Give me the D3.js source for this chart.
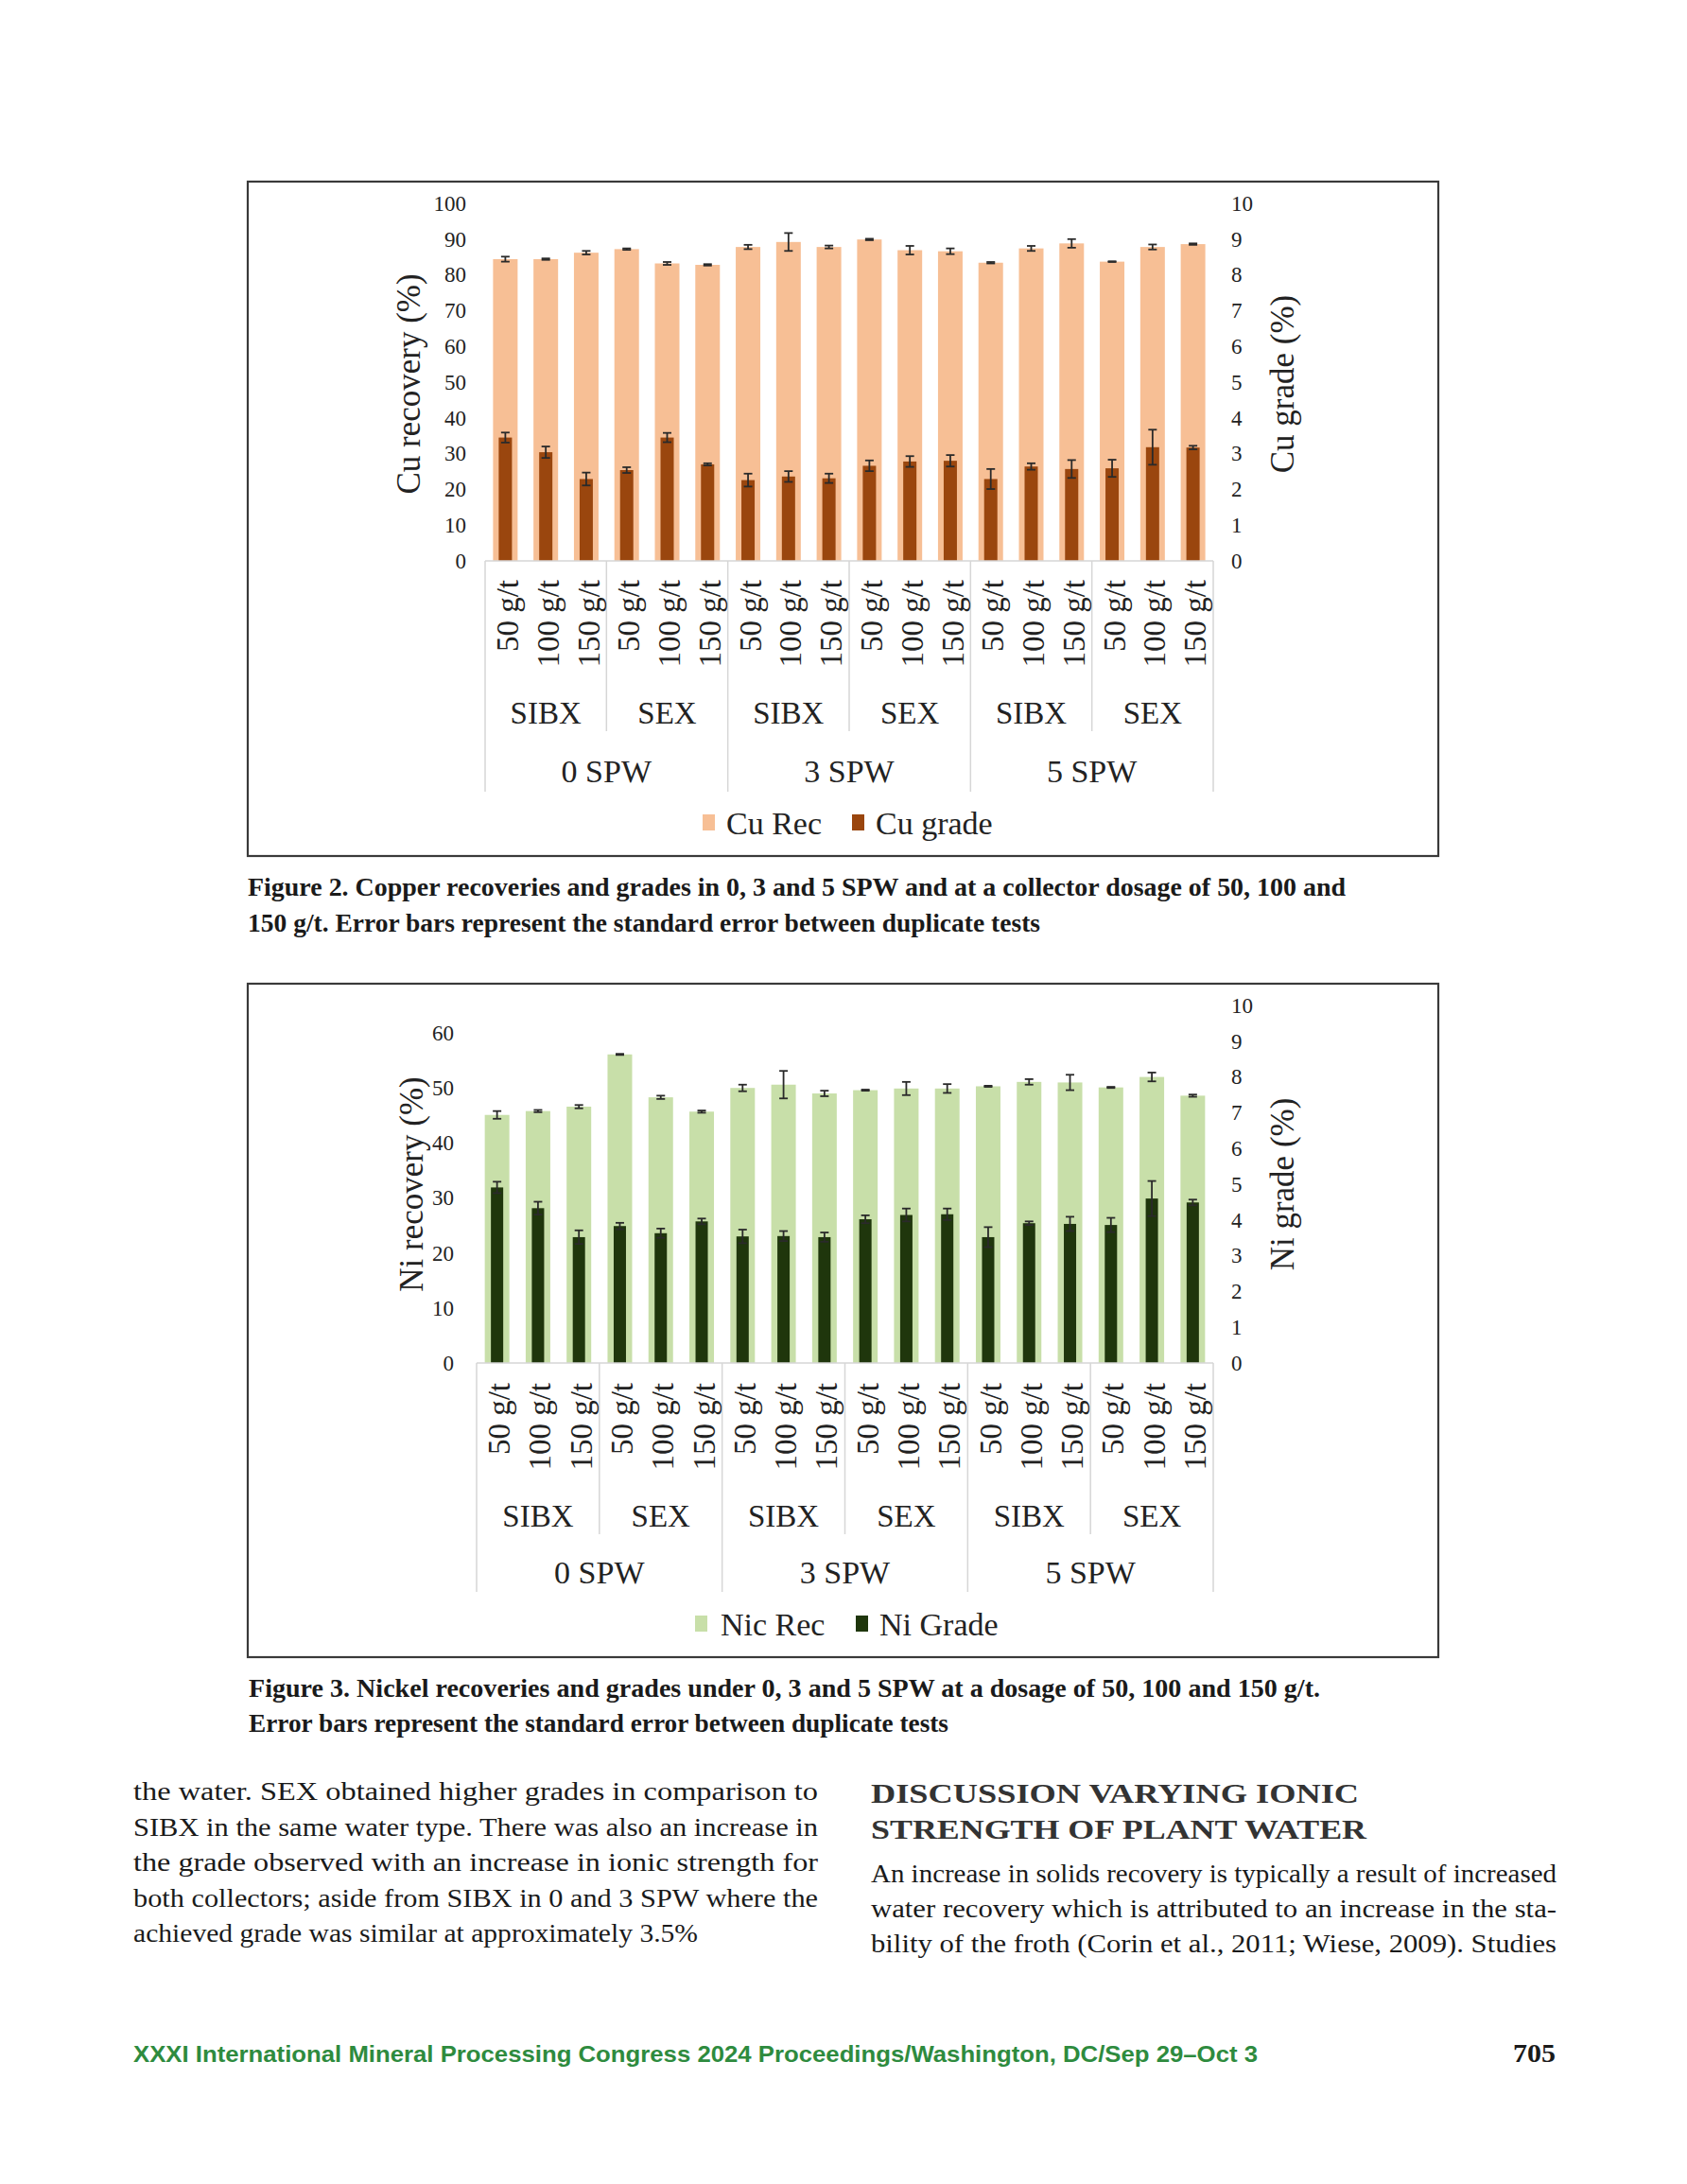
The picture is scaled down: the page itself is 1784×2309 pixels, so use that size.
<!DOCTYPE html>
<html>
<head>
<meta charset="utf-8">
<script src="https://cdn.jsdelivr.net/npm/d3@7"></script>
<style>
body { margin: 0; background: #fff; }
</style>
</head>
<body>
<div id="page"></div>
<script>
// category labels
var doseLabels = ["50 g/t","100 g/t","150 g/t","50 g/t","100 g/t","150 g/t",
				"50 g/t","100 g/t","150 g/t","50 g/t","100 g/t","150 g/t",
				"50 g/t","100 g/t","150 g/t","50 g/t","100 g/t","150 g/t"];
var collectorLabels = ["SIBX","SEX","SIBX","SEX","SIBX","SEX"];
var spwLabels = ["0 SPW","3 SPW","5 SPW"];

// copper (figure 2)
var cuRec = [84.4,84.4,86.2,87.2,83.2,82.8,87.8,89.2,87.8,89.9,86.9,86.6,83.4,87.4,88.8,83.7,87.8,88.6];
var cuRecErr = [0.7,0.2,0.5,0.2,0.4,0.2,0.6,2.5,0.4,0.2,1.2,0.8,0.2,0.7,1.2,0.1,0.7,0.2];
var cuGrade = [3.45,3.04,2.29,2.54,3.45,2.70,2.26,2.36,2.31,2.66,2.78,2.80,2.29,2.64,2.57,2.59,3.18,3.17];
var cuGradeErr = [0.14,0.16,0.18,0.08,0.13,0.03,0.18,0.15,0.13,0.15,0.15,0.16,0.28,0.09,0.25,0.24,0.49,0.05];

// nickel (figure 3)
var niRec = [45.1,45.8,46.6,56.1,48.3,45.7,50.0,50.6,49.0,49.6,49.9,49.9,50.3,51.1,51.0,50.1,52.0,48.6];
var niRecErr = [0.7,0.2,0.3,0.1,0.3,0.2,0.6,2.5,0.5,0.1,1.2,0.8,0.1,0.5,1.4,0.1,0.8,0.2];
var niGrade = [4.91,4.33,3.52,3.83,3.63,3.96,3.54,3.55,3.52,4.02,4.14,4.16,3.52,3.91,3.89,3.86,4.60,4.49];
var niGradeErr = [0.16,0.18,0.19,0.09,0.13,0.08,0.19,0.14,0.13,0.11,0.18,0.16,0.28,0.05,0.20,0.20,0.49,0.08];

var cuTicksLeft = [0,10,20,30,40,50,60,70,80,90,100];
var niTicksLeft = [0,10,20,30,40,50,60];
var gradeTicks = [0,1,2,3,4,5,6,7,8,9,10];

var serif = '"Liberation Serif", "Times New Roman", serif';
var ink = '#222';

var svg = d3.select('#page').append('svg')
	.attr('width', 1784)
	.attr('height', 2309);

svg.append('rect')
	.attr('width', 1784)
	.attr('height', 2309)
	.attr('fill', '#fff');

function drawChart(c) {
	var g = svg.append('g');

	g.append('rect')
		.attr('x', c.box[0]).attr('y', c.box[1])
		.attr('width', c.box[2] - c.box[0])
		.attr('height', c.box[3] - c.box[1])
		.attr('fill', 'none')
		.attr('stroke', '#3a3a3a')
		.attr('stroke-width', 2.2);

	var x = d3.scaleBand()
		.domain(d3.range(doseLabels.length))
		.range([c.x0, c.x1]);
	var yL = d3.scaleLinear().domain([0, c.leftMax]).range([c.y0, c.yTop]);
	var yR = d3.scaleLinear().domain([0, 10]).range([c.y0, c.yTop]);
	var mid = function (i) { return x(i) + x.bandwidth() / 2; };

	// recovery bars
	g.selectAll('empty')
		.data(c.rec)
		.enter()
		.append('rect')
		.attr('x', function (d, i) { return mid(i) - c.recW / 2; })
		.attr('y', function (d) { return yL(d); })
		.attr('width', c.recW)
		.attr('height', function (d) { return c.y0 - yL(d); })
		.attr('fill', c.recColor);

	// grade bars
	g.selectAll('empty')
		.data(c.grade)
		.enter()
		.append('rect')
		.attr('x', function (d, i) { return mid(i) - c.gradeW / 2; })
		.attr('y', function (d) { return yR(d); })
		.attr('width', c.gradeW)
		.attr('height', function (d) { return c.y0 - yR(d); })
		.attr('fill', c.gradeColor);

	function errorBars(vals, errs, scale) {
		var eb = g.append('g')
			.attr('stroke', '#2a2a2a')
			.attr('stroke-width', 1.8);
		vals.forEach(function (v, i) {
			var cx = mid(i);
			var top = scale(v + errs[i]);
			var bot = scale(v - errs[i]);
			eb.append('line').attr('x1', cx).attr('x2', cx).attr('y1', top).attr('y2', bot);
			eb.append('line').attr('x1', cx - 4.5).attr('x2', cx + 4.5).attr('y1', top).attr('y2', top);
			eb.append('line').attr('x1', cx - 4.5).attr('x2', cx + 4.5).attr('y1', bot).attr('y2', bot);
		});
	}
	errorBars(c.rec, c.recErr, yL);
	errorBars(c.grade, c.gradeErr, yR);

	// baseline
	g.append('line')
		.attr('x1', c.x0).attr('x2', c.x1)
		.attr('y1', c.y0).attr('y2', c.y0)
		.attr('stroke', '#d6d6d6')
		.attr('stroke-width', 1.5);

	// category separators
	for (var k = 0; k <= 6; k++) {
		var sx = c.x0 + k * 3 * x.step();
		g.append('line')
			.attr('x1', sx).attr('x2', sx)
			.attr('y1', c.y0)
			.attr('y2', k % 2 === 0 ? c.spwLineEnd : c.grpLineEnd)
			.attr('stroke', '#d6d6d6')
			.attr('stroke-width', 1.5);
	}

	// left axis
	var la = g.append('g')
		.attr('transform', 'translate(' + c.x0 + ',0)')
		.call(d3.axisLeft(yL).tickValues(c.leftTicks).tickSize(0).tickPadding(c.leftPad));
	la.select('.domain').remove();
	la.selectAll('text')
		.attr('font-family', serif)
		.attr('font-size', '23px')
		.attr('fill', ink);

	// right axis
	var ra = g.append('g')
		.attr('transform', 'translate(' + c.x1 + ',0)')
		.call(d3.axisRight(yR).tickValues(gradeTicks).tickSize(0).tickPadding(19));
	ra.select('.domain').remove();
	ra.selectAll('text')
		.attr('font-family', serif)
		.attr('font-size', '23px')
		.attr('fill', ink);

	// dosage labels
	var ba = g.append('g')
		.attr('transform', 'translate(0,' + c.y0 + ')')
		.call(d3.axisBottom(x).tickSize(0).tickFormat(function (i) { return doseLabels[i]; }));
	ba.select('.domain').remove();
	ba.selectAll('text')
		.attr('transform', 'rotate(-90)')
		.attr('x', -c.doseGap)
		.attr('y', 2)
		.attr('dy', '0.35em')
		.attr('text-anchor', 'end')
		.attr('font-family', serif)
		.attr('font-size', '33px')
		.attr('fill', ink);

	g.selectAll('empty')
		.data(collectorLabels)
		.enter()
		.append('text')
		.attr('x', function (d, i) { return c.x0 + (i * 3 + 1.5) * x.step(); })
		.attr('y', c.grpY)
		.attr('dy', '0.35em')
		.attr('text-anchor', 'middle')
		.attr('font-family', serif)
		.attr('font-size', '33px')
		.attr('fill', ink)
		.text(function (d) { return d; });

	g.selectAll('empty')
		.data(spwLabels)
		.enter()
		.append('text')
		.attr('x', function (d, i) { return c.x0 + (i * 6 + 3) * x.step(); })
		.attr('y', c.spwY)
		.attr('dy', '0.35em')
		.attr('text-anchor', 'middle')
		.attr('font-family', serif)
		.attr('font-size', '34px')
		.attr('fill', ink)
		.text(function (d) { return d; });

	// axis titles
	g.append('text')
		.attr('transform', 'translate(' + c.leftTitleX + ',' + c.titleY + ') rotate(-90)')
		.attr('text-anchor', 'middle')
		.attr('dy', '0.35em')
		.attr('font-family', serif)
		.attr('font-size', '35px')
		.attr('fill', ink)
		.text(c.leftTitle);

	g.append('text')
		.attr('transform', 'translate(' + c.rightTitleX + ',' + c.titleY + ') rotate(-90)')
		.attr('text-anchor', 'middle')
		.attr('dy', '0.35em')
		.attr('font-family', serif)
		.attr('font-size', '35px')
		.attr('fill', ink)
		.text(c.rightTitle);

	// legend
	var lg = g.append('g').attr('transform', 'translate(0,' + c.legendY + ')');
	c.legend.forEach(function (L) {
		lg.append('rect')
			.attr('x', L.sx).attr('y', -9)
			.attr('width', 13).attr('height', 17)
			.attr('fill', L.color);
		lg.append('text')
			.attr('x', L.tx)
			.attr('dy', '0.35em')
			.attr('font-family', serif)
			.attr('font-size', '34px')
			.attr('fill', ink)
			.text(L.label);
	});
}

drawChart({
	box: [262, 192, 1521, 905],
	x0: 513, x1: 1283, y0: 593, yTop: 215,
	leftMax: 100, leftTicks: cuTicksLeft, leftPad: 20,
	rec: cuRec, recErr: cuRecErr, grade: cuGrade, gradeErr: cuGradeErr,
	recW: 26, gradeW: 14,
	recColor: '#f7bf95', gradeColor: '#9a460e',
	doseGap: 20, grpY: 753, spwY: 815,
	grpLineEnd: 773, spwLineEnd: 837,
	leftTitle: 'Cu recovery (%)', rightTitle: 'Cu grade (%)',
	leftTitleX: 432, rightTitleX: 1356, titleY: 406,
	legendY: 870,
	legend: [{sx: 743, tx: 768, color: '#f7bf95', label: 'Cu Rec'},
			 {sx: 901, tx: 926, color: '#9a460e', label: 'Cu grade'}]
});

drawChart({
	box: [262, 1040, 1521, 1752],
	x0: 504, x1: 1283, y0: 1441, yTop: 1063,
	leftMax: 65, leftTicks: niTicksLeft, leftPad: 24,
	rec: niRec, recErr: niRecErr, grade: niGrade, gradeErr: niGradeErr,
	recW: 26, gradeW: 13,
	recColor: '#c8dfa9', gradeColor: '#1f360c',
	doseGap: 21, grpY: 1602, spwY: 1662,
	grpLineEnd: 1622, spwLineEnd: 1683,
	leftTitle: 'Ni recovery (%)', rightTitle: 'Ni grade (%)',
	leftTitleX: 435, rightTitleX: 1356, titleY: 1252,
	legendY: 1717,
	legend: [{sx: 735, tx: 762, color: '#c8dfa9', label: 'Nic Rec'},
			 {sx: 905, tx: 930, color: '#1f360c', label: 'Ni Grade'}]
});

// page text around the figures
function line(txt, x, y, w, size, weight, color, family) {
	svg.append('text')
		.attr('x', x)
		.attr('y', y)
		.attr('font-family', family || serif)
		.attr('font-size', size + 'px')
		.attr('font-weight', weight || 'normal')
		.attr('fill', color || '#1a1a1a')
		.attr('textLength', w)
		.attr('lengthAdjust', 'spacingAndGlyphs')
		.text(txt);
}

line('Figure 2. Copper recoveries and grades in 0, 3 and 5 SPW and at a collector dosage of 50, 100 and', 262, 947, 1161, 27, 'bold');
line('150 g/t. Error bars represent the standard error between duplicate tests', 262, 985, 838, 27, 'bold');

line('Figure 3. Nickel recoveries and grades under 0, 3 and 5 SPW at a dosage of 50, 100 and 150 g/t.', 263, 1794, 1133, 27, 'bold');
line('Error bars represent the standard error between duplicate tests', 263, 1831, 740, 27, 'bold');

var leftCol = ['the water. SEX obtained higher grades in comparison to',
			'SIBX in the same water type. There was also an increase in',
			'the grade observed with an increase in ionic strength for',
			'both collectors; aside from SIBX in 0 and 3 SPW where the',
			'achieved grade was similar at approximately 3.5%'];
leftCol.forEach(function (t, i) {
	line(t, 141, 1903 + i * 37.5, i === 4 ? 597 : 724, 28);
});

line('DISCUSSION VARYING IONIC', 921, 1906, 516, 30, 'bold', '#333');
line('STRENGTH OF PLANT WATER', 921, 1944, 524, 30, 'bold', '#333');

var rightCol = ['An increase in solids recovery is typically a result of increased',
			'water recovery which is attributed to an increase in the sta-',
			'bility of the froth (Corin et al., 2011; Wiese, 2009). Studies'];
rightCol.forEach(function (t, i) {
	line(t, 921, 1990 + i * 37, 725, 28);
});

line('XXXI International Mineral Processing Congress 2024 Proceedings/Washington, DC/Sep 29\u2013Oct 3', 141, 2180, 1189, 24, 'bold', '#2e8b3e', '"Liberation Sans", Arial, sans-serif');
line('705', 1600, 2180, 45, 27, 'bold', '#1a1a1a');
</script>
</body>
</html>
